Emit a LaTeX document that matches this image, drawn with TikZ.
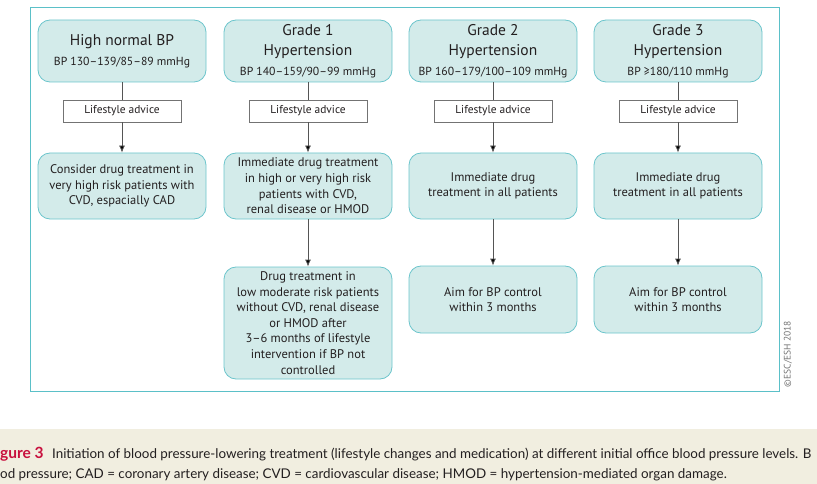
\documentclass[tikz,border=0pt]{standalone}
\usepackage{fontspec}
\setmainfont{PT Sans}
\newfontfamily\capfont{Lato}
\usetikzlibrary{positioning,arrows,arrows.meta}

\definecolor{boxfill}{HTML}{D3EBEA}
\definecolor{boxline}{HTML}{6CC5CC}
\definecolor{frameline}{HTML}{5BC0C8}
\definecolor{capback}{HTML}{F1EEE0}
\definecolor{figred}{HTML}{C8103E}
\definecolor{inkgray}{HTML}{231F20}
\definecolor{arrowgray}{HTML}{555555}

\newcommand{\bprange}[1]{{\fontsize{11.7}{13}\selectfont #1}}

\begin{document}
\begin{tikzpicture}[x=1pt,y=-1pt,on grid,>={Latex[length=7pt,width=6pt]},
   grade/.style={draw=boxline,fill=boxfill,rounded corners=12pt,line width=0.8pt,
      minimum width=168pt,minimum height=62pt,align=center,text=inkgray,
      font=\fontsize{15.5}{19.8}\selectfont},
   advice/.style={draw=black!55,fill=white,line width=0.7pt,minimum width=118pt,
      minimum height=22pt,text=inkgray,font=\fontsize{11.4}{13}\selectfont},
   action/.style={draw=boxline,fill=boxfill,rounded corners=12pt,line width=0.8pt,
      minimum width=168pt,minimum height=#1,align=center,text=inkgray,
      font=\fontsize{12.5}{15.6}\selectfont},
   link/.style={draw=arrowgray,line width=0.8pt}]
\useasboundingbox (0,0) rectangle (817,484);
\draw[frameline,line width=1pt] (30,8) rectangle (779,391);
\fill[capback] (0,429) rectangle (817,484);

% top row
   \node[grade] (hn) at (122,51) {High normal BP\\\bprange{BP 130–139/85–89 mmHg}};
   \node[grade] (g1) [right=186pt of hn] {Grade 1\\Hypertension\\\bprange{BP 140–159/90–99 mmHg}};
   \node[grade] (g2) [right=185pt of g1] {Grade 2\\Hypertension\\\bprange{BP 160–179/100–109 mmHg}};
   \node[grade] (g3) [right=185pt of g2] {Grade 3\\Hypertension\\\bprange{BP ≥180/110 mmHg}};
% lifestyle
   \node[advice] (la0) [below=60pt of hn] {Lifestyle advice};
   \node[advice] (la1) [below=60pt of g1] {Lifestyle advice};
   \node[advice] (la2) [below=60pt of g2] {Lifestyle advice};
   \node[advice] (la3) [below=60pt of g3] {Lifestyle advice};
% treatment
   \node[action=66pt] (tx0) [below=75pt of la0] {Consider drug treatment in\\very high risk patients with\\CVD, espacially CAD};
   \node[action=66pt] (tx1) [below=75pt of la1] {Immediate drug treatment\\in high or very high risk\\patients with CVD,\\renal disease or HMOD};
   \node[action=66pt] (tx2) [below=75pt of la2] {Immediate drug\\treatment in all patients};
   \node[action=66pt] (tx3) [below=75pt of la3] {Immediate drug\\treatment in all patients};
% follow up
   \node[action=112pt] (dt1) [below=137pt of tx1] {Drug treatment in\\low moderate risk patients\\without CVD, renal disease\\or HMOD after\\3–6 months of lifestyle\\intervention if BP not\\controlled};
   \node[action=67pt] (aim2) [below=113.5pt of tx2] {Aim for BP control\\within 3 months};
   \node[action=67pt] (aim3) [below=113.5pt of tx3] {Aim for BP control\\within 3 months};

   \path[link]
(hn) edge (la0)
(g1) edge (la1)
(g2) edge (la2)
(g3) edge (la3)
(la0) edge [->] (tx0)
(la1) edge [->] (tx1)
(la2) edge [->] (tx2)
(la3) edge [->] (tx3)
(tx1) edge [->] (dt1)
(tx2) edge [->] (aim2)
(tx3) edge [->] (aim3);

   \node[rotate=90,text=black!55,font=\fontsize{9.5}{10}\selectfont] (copy) at (788,354) {©ESC/ESH 2018};

% caption
   \node[anchor=base west,inner sep=0pt,font=\capfont\fontsize{13.4}{15}\selectfont,text=inkgray] (cap1) at (0,458)
      {{\fontsize{15.5}{15}\selectfont\bfseries\color{figred}gure 3}\hspace{5pt} Initiation of blood pressure-lowering treatment (lifestyle changes and medication) at different initial office blood pressure levels. B};
   \node[anchor=base west,inner sep=0pt,font=\capfont\fontsize{13.4}{15}\selectfont,text=inkgray] (cap2) at (0,478)
      {od pressure; CAD = coronary artery disease; CVD = cardiovascular disease; HMOD = hypertension-mediated organ damage.};
\end{tikzpicture}
\end{document}
